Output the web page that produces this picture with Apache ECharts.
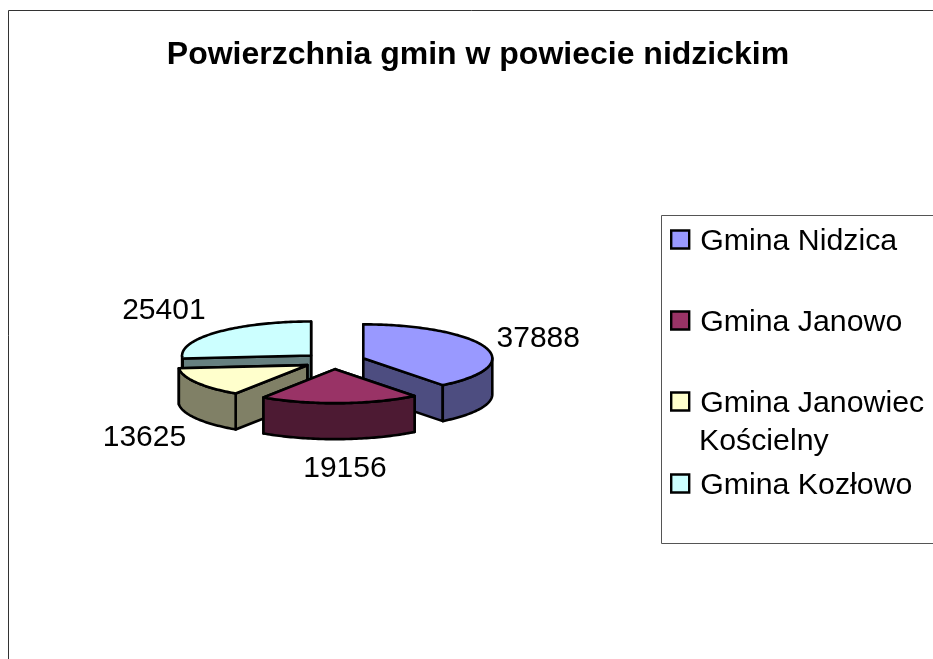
<!DOCTYPE html>
<html>
<head>
<meta charset="utf-8">
<style>html,body{margin:0;padding:0;background:#fff;overflow:hidden}#main{width:933px;height:659px}</style>
<script src="https://cdn.jsdelivr.net/npm/echarts@6/dist/echarts.min.js"></script>
</head>
<body>
<div id="main"></div>
<script>
const gminy = ['Gmina Nidzica', 'Gmina Janowo', 'Gmina Janowiec Kościelny', 'Gmina Kozłowo'];
const powierzchnia = [37888, 19156, 13625, 25401];
const topColors = ['#9999ff', '#993366', '#ffffcc', '#ccffff'];
const sideColors = ['#4d4d80', '#4d1a33', '#808066', '#668080'];

// pie geometry, the slice angles come from the values
const cx = 334, cy = 361, rx = 129, ry = 34, depth = 36, explode = 31;
const FONT = '"Liberation Sans", Arial, sans-serif';
const labelShift = [[53, -9], [5, 66], [-52, 55], [-52, -22]];
const drawOrder = [3, 0, 2, 1]; // back to front
const legendTop = [227, 308, 389, 471];

const total = powierzchnia.reduce((a, b) => a + b, 0);
const rad = (v) => v / total * Math.PI * 2;
const starts = powierzchnia.map((_, i) => rad(powierzchnia.slice(0, i).reduce((a, b) => a + b, 0)));

function sliceItem(i, value) {
    const a = starts[i], b = a + rad(value), mid = (a + b) / 2;
    const ox = cx + explode * Math.sin(mid);
    const oy = cy - explode * Math.cos(mid) * ry / rx;
    const rim = (t, dz) => [ox + rx * Math.sin(t), oy - ry * Math.cos(t) + (dz || 0)];
    const arc = (from, to, dz) => {
        const pts = [];
        const n = Math.max(2, Math.ceil((to - from) / 0.02));
        for (let k = 0; k <= n; k++) pts.push(rim(from + (to - from) * k / n, dz));
        return pts;
    };
    const stroke = { stroke: '#000', lineWidth: 2.6, lineJoin: 'round' };
    const poly = (points, fill) => ({ type: 'polygon', shape: { points }, style: Object.assign({ fill }, stroke) });
    const kids = [];
    // radial walls, the one further back first
    const walls = [a, b].sort((p, q) => rim(p)[1] - rim(q)[1]);
    walls.forEach((t) => {
        kids.push(poly([[ox, oy], rim(t), rim(t, depth), [ox, oy + depth]], sideColors[i]));
    });
    // outer wall, front half only
    const f = Math.max(a, Math.PI / 2), g = Math.min(b, Math.PI * 1.5);
    if (g > f) kids.push(poly(arc(f, g).concat(arc(f, g, depth).reverse()), sideColors[i]));
    kids.push(poly([[ox, oy]].concat(arc(a, b)), topColors[i]));
    kids.push({
        type: 'text',
        style: {
            text: String(value), font: '30px ' + FONT, fill: '#000', align: 'center', verticalAlign: 'middle',
            x: rim(mid)[0] + labelShift[i][0], y: rim(mid)[1] + labelShift[i][1]
        }
    });
    return { type: 'group', children: kids };
}

const chart = echarts.init(document.getElementById('main'));
chart.setOption({
    animation: false,
    backgroundColor: '#fff',
    title: {
        text: 'Powierzchnia gmin w powiecie nidzickim',
        left: 478, top: 39, textAlign: 'center', padding: 0,
        textStyle: { fontFamily: FONT, fontSize: 32, fontWeight: 'bold', color: '#000' }
    },
    graphic: [
        { type: 'rect', shape: { x: 8.5, y: 10.5, width: 960, height: 700 }, style: { fill: 'none', stroke: '#333', lineWidth: 1 }, z: -1 },
        { type: 'rect', shape: { x: 661.5, y: 215.5, width: 300, height: 328 }, style: { fill: '#fff', stroke: '#555', lineWidth: 1 }, z: -1 },
        { type: 'text', x: 699, y: 442, style: { text: 'Kościelny', font: '30.3px ' + FONT, fill: '#000', verticalAlign: 'middle' }, z: 5 }
    ],
    legend: gminy.map((name, i) => ({
        data: [name],
        left: 670, top: legendTop[i], padding: 0,
        orient: 'vertical', selectedMode: false,
        itemWidth: 18, itemHeight: 18, icon: 'rect',
        itemStyle: { borderColor: '#000', borderWidth: 2.4 },
        formatter: (n) => '{t|' + n.replace(' Kościelny', '') + '}',
        textStyle: {
            padding: [0, 0, 0, 6],
            rich: { t: { fontFamily: FONT, fontSize: 30.3, color: '#000', padding: [5, 0, 0, 0] } }
        }
    })),
    series: drawOrder.map((i) => ({
        type: 'custom',
        name: gminy[i],
        coordinateSystem: 'none',
        silent: true,
        itemStyle: { color: topColors[i] },
        data: [powierzchnia[i]],
        renderItem: (params, api) => sliceItem(i, api.value(0))
    }))
});
</script>
</body>
</html>
